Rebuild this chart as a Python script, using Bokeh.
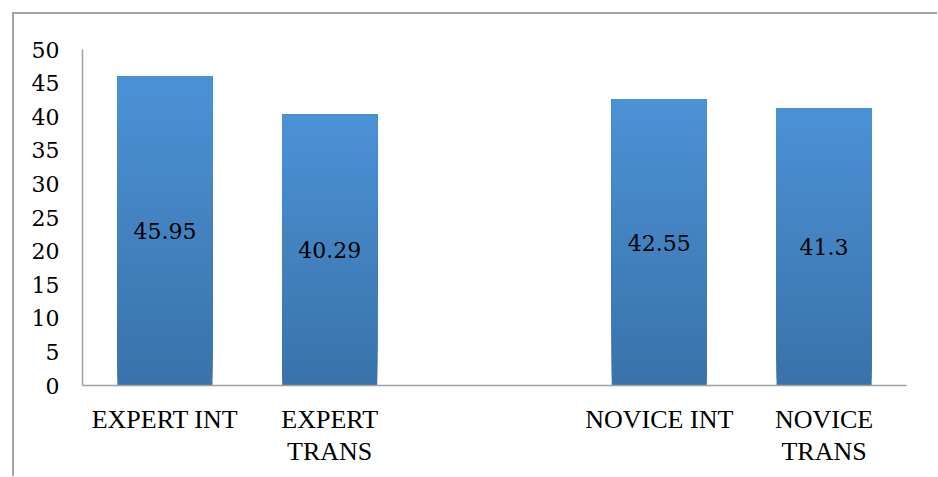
import json
from bokeh.plotting import figure
from bokeh.models import ColumnDataSource, FixedTicker, CategoricalAxis, CustomJSTickFormatter
from bokeh.core.properties import value
from bokeh.embed import file_html
from bokeh.resources import INLINE

categories = ["EXPERT INT", "EXPERT TRANS", " ", "NOVICE INT", "NOVICE TRANS"]
bar_categories = ["EXPERT INT", "EXPERT TRANS", "NOVICE INT", "NOVICE TRANS"]
scores = [45.95, 40.29, 42.55, 41.3]
score_labels = ["45.95", "40.29", "42.55", "41.3"]
label_line1 = ["EXPERT INT", "EXPERT", "", "NOVICE INT", "NOVICE"]
label_line2 = ["", "TRANS", "", "", "TRANS"]
y_ticks = [0, 5, 10, 15, 20, 25, 30, 35, 40, 45, 50]

FONT = "serif"
NUM_FONT = "DejaVu Serif"

p = figure(x_range=categories, y_range=(0, 50), width=925, height=464,
           output_backend="svg", toolbar_location=None,
           min_border_left=68, min_border_top=35, min_border_right=33, min_border_bottom=93)
p.margin = (12, 0, 0, 12)
p.styles = {"border-left": "2px solid #a3a3a3", "border-top": "2px solid #a3a3a3"}
p.outline_line_color = None
p.grid.grid_line_color = None
p.background_fill_color = "white"
p.border_fill_color = "white"

# gradient bars: overlapping layers from dark (full bar) to light (top part)
N = 40
c_bot = (0x3a, 0x72, 0xaa)
c_top = (0x4b, 0x92, 0xd6)
xs, bots, tops, cols = [], [], [], []
for cat, v in zip(bar_categories, scores):
    for i in range(N):
        f = (i + 0.5) / N
        c = tuple(int(round(c_bot[k] + (c_top[k] - c_bot[k]) * f)) for k in range(3))
        xs.append(cat)
        bots.append(v * i / N)
        tops.append(v)
        cols.append("#%02x%02x%02x" % c)
src = ColumnDataSource(dict(x=xs, bottom=bots, top=tops, color=cols))
p.vbar(x="x", bottom="bottom", top="top", width=0.577, fill_color="color", line_color=None, source=src)

lab = ColumnDataSource(dict(x=bar_categories, y=[v / 2 for v in scores], t=score_labels))
p.text(x="x", y="y", text="t", source=lab, text_align="center", text_baseline="middle",
       text_font=value(NUM_FONT), text_font_size="22px", text_color="black")

p.yaxis.ticker = FixedTicker(ticks=y_ticks)
x2 = CategoricalAxis()
p.add_layout(x2, "below")
for ax in (p.xaxis[0], p.yaxis[0], x2):
    ax.axis_line_color = "#a0a0a0"
    ax.axis_line_width = 1.5
    ax.major_tick_line_color = None
    ax.minor_tick_line_color = None
    ax.major_tick_out = 0
    ax.major_tick_in = 0
    ax.major_label_text_font = FONT
    ax.major_label_text_font_size = "26px"
    ax.major_label_text_color = "black"
x2.axis_line_color = None
p.yaxis.major_label_text_font = NUM_FONT
p.yaxis.major_label_text_font_size = "22px"
p.yaxis.major_label_standoff = 23
p.xaxis[0].major_label_standoff = 19
x2.major_label_standoff = 0

m1 = json.dumps(dict(zip(categories, label_line1)))
m2 = json.dumps(dict(zip(categories, label_line2)))
p.xaxis[0].formatter = CustomJSTickFormatter(code="const m = %s; return m[tick];" % m1)
x2.formatter = CustomJSTickFormatter(code="const m = %s; return m[tick];" % m2)
p.x_range.range_padding = 0

open("out.html", "w").write(file_html(p, INLINE))
